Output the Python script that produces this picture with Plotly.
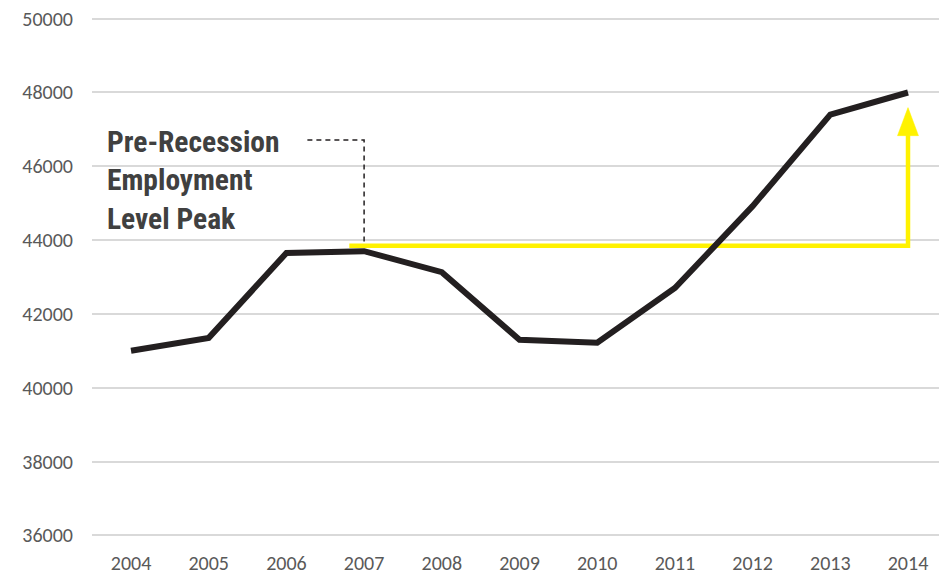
import plotly.graph_objects as go

years = [2004, 2005, 2006, 2007, 2008, 2009, 2010, 2011, 2012, 2013, 2014]
employment = [41000, 41350, 43650, 43700, 43130, 41300, 41220, 42700, 44920, 47400, 48000]

y_ticks = [36000, 38000, 40000, 42000, 44000, 46000, 48000, 50000]

peak_level = 43850          # yellow reference line level
peak_start_year = 2006.81
arrow_year = 2014
arrow_tip = 47590
label_line_y = 46710
label_line_start = 2006.27
label_text = "Pre-Recession<br>Employment<br>Level Peak"

fig = go.Figure()

# dashed leader line
fig.add_trace(go.Scatter(
    x=[label_line_start, 2007, 2007], y=[label_line_y, label_line_y, peak_level],
    mode="lines", line=dict(color="#231f20", width=1.5, dash="5px,4px"),
    hoverinfo="skip", showlegend=False))

# yellow line
fig.add_trace(go.Scatter(
    x=[peak_start_year, arrow_year, arrow_year],
    y=[peak_level, peak_level, arrow_tip - 700],
    mode="lines", line=dict(color="#fff200", width=4.5),
    hoverinfo="skip", showlegend=False))

# arrowhead
fig.add_trace(go.Scatter(
    x=[arrow_year - 0.135, arrow_year + 0.135, arrow_year, arrow_year - 0.135],
    y=[arrow_tip - 760, arrow_tip - 760, arrow_tip, arrow_tip - 760],
    mode="lines", fill="toself", fillcolor="#fff200",
    line=dict(color="#fff200", width=0.5),
    hoverinfo="skip", showlegend=False))

# main series
fig.add_trace(go.Scatter(
    x=years, y=employment, mode="lines",
    line=dict(color="#231f20", width=6),
    showlegend=False))

fig.add_annotation(
    x=0.0153, y=0.7933, xref="paper", yref="paper",
    xanchor="left", yanchor="top", align="left",
    text=label_text, showarrow=False,
    font=dict(family="Liberation Sans Narrow, Roboto Condensed, Arial Narrow, sans-serif",
              size=29.5, color="#404040", weight="bold"))

tick_font = dict(family="Carlito, Calibri, Lato, sans-serif", size=20, color="#595959")

fig.update_layout(
    width=939, height=575,
    margin=dict(l=92, r=0, t=15, b=35.6),
    plot_bgcolor="white", paper_bgcolor="white",
    xaxis=dict(range=[2003.498, 2014.399], tickvals=years,
               ticktext=[str(y) for y in years], showgrid=False, zeroline=False,
               showline=False, tickfont=tick_font, ticklabelstandoff=10, fixedrange=True),
    yaxis=dict(range=[35900, 50100], tickvals=y_ticks,
               ticktext=[str(v) for v in y_ticks], showgrid=True,
               gridcolor="#d9d9d9", gridwidth=1.5, zeroline=False, showline=False,
               tickfont=tick_font, ticklabelstandoff=18, ticklabeloverflow="allow",
               fixedrange=True),
)

fig.write_html("out.html", post_script="document.body.style.margin='0px';",
               config={"displayModeBar": False})
